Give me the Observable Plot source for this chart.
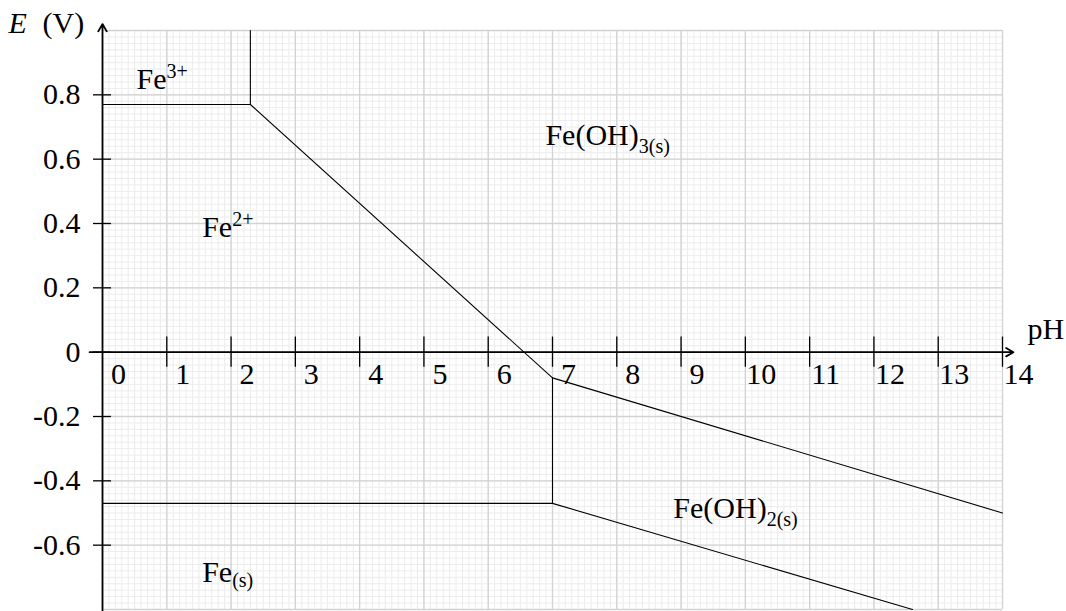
<!DOCTYPE html>
<html>
<head>
<meta charset="utf-8">
<script src="https://cdn.jsdelivr.net/npm/d3@7"></script>
<script src="https://cdn.jsdelivr.net/npm/@observablehq/plot@0.6"></script>
<style>
  html, body { margin: 0; padding: 0; background: #fff; }
  #chart svg { display: block; }
</style>
</head>
<body>
<div id="chart"></div>
<script>
// Potential–pH (Pourbaix) diagram of iron

// Axis ticks
const phTicks = [0, 1, 2, 3, 4, 5, 6, 7, 8, 9, 10, 11, 12, 13, 14];
const eTicks = [0.8, 0.6, 0.4, 0.2, 0, -0.2, -0.4, -0.6];
const eTickLabels = ["0.8", "0.6", "0.4", "0.2", "0", "-0.2", "-0.4", "-0.6"];

// Boundaries between predominance domains, as [pH, E] points
const boundFe3Fe2 = [[0, 0.77], [2.3, 0.77]];
const boundFe3FeOH3 = [[2.3, 0.77], [2.3, 1.0]];
const boundFe2FeOH3 = [[2.3, 0.77], [7, -0.08]];
const boundFe2FeOH2 = [[7, -0.08], [7, -0.47]];
const boundFeOH3FeOH2 = [[7, -0.08], [14, -0.5]];
const boundFe2Fe = [[0, -0.47], [7, -0.47]];
const boundFeOH2Fe = [[7, -0.47], [12.6, -0.8]];

// Species names written in each domain
const speciesBase = ["Fe", "Fe", "Fe(OH)", "Fe(OH)", "Fe"];
const speciesScript = ["3+", "2+", "3(s)", "2(s)", "(s)"];
const speciesKind = ["sup", "sup", "sub", "sub", "sub"];
const speciesPH = [0.53, 1.55, 6.89, 8.88, 1.55];
const speciesE = [0.817, 0.357, 0.643, -0.516, -0.715];

// Frame of the diagram
const phDomain = [0, 14];
const eDomain = [-0.8, 1.0];
const phAxisEnds = [-0.2, 14.17];
const eAxisEnds = [-0.81, 1.02];

const FONT = "'Liberation Serif', 'Times New Roman', serif";
const FS = 30;        // main text size
const FS_SCRIPT = 20; // sub/superscript size

// Measure the base text so that scripts can follow it
const ctx = document.createElement("canvas").getContext("2d");
ctx.font = `${FS}px ${FONT}`;
const species = speciesBase.map((base, i) => ({
  base,
  script: speciesScript[i],
  kind: speciesKind[i],
  pH: speciesPH[i],
  E: speciesE[i],
  w: ctx.measureText(base).width
}));

// Grid positions
const minorX = d3.range(0, 141).map(i => i / 10);
const minorY = d3.range(-40, 51).map(i => i / 50);
const majorX = d3.range(0, 15);
const majorY = d3.range(-4, 6).map(i => i / 5);

const boundaries = [boundFe3Fe2, boundFe3FeOH3, boundFe2FeOH3, boundFe2FeOH2,
                    boundFeOH3FeOH2, boundFe2Fe, boundFeOH2Fe];

const marks = [
  // graph-paper grid
  Plot.ruleX(minorX, {x: d => d, y1: eDomain[0], y2: eDomain[1], stroke: "#ececec", strokeWidth: 1}),
  Plot.ruleY(minorY, {y: d => d, x1: phDomain[0], x2: phDomain[1], stroke: "#ececec", strokeWidth: 1}),
  Plot.ruleX(majorX, {x: d => d, y1: eDomain[0], y2: eDomain[1], stroke: "#d2d2d2", strokeWidth: 1.3}),
  Plot.ruleY(majorY, {y: d => d, x1: phDomain[0], x2: phDomain[1], stroke: "#d2d2d2", strokeWidth: 1.3}),

  // domain boundaries
  ...boundaries.map(seg => Plot.line(seg, {x: d => d[0], y: d => d[1], stroke: "black", strokeWidth: 1.1})),

  // axes with arrow heads
  Plot.arrow([{x1: phAxisEnds[0], x2: phAxisEnds[1], y1: 0, y2: 0}],
    {x1: "x1", x2: "x2", y1: "y1", y2: "y2", stroke: "black", strokeWidth: 1.8, headLength: 7, headAngle: 60}),
  Plot.arrow([{x1: 0, x2: 0, y1: eAxisEnds[0], y2: eAxisEnds[1]}],
    {x1: "x1", x2: "x2", y1: "y1", y2: "y2", stroke: "black", strokeWidth: 1.8, headLength: 7, headAngle: 60}),

  // tick marks
  Plot.ruleX(phTicks.filter(d => d > 0), {x: d => d, y1: -0.047, y2: 0.047, stroke: "black", strokeWidth: 1.3}),
  Plot.ruleY(eTicks, {y: d => d, x1: -0.14, x2: 0.14, stroke: "black", strokeWidth: 1.3}),

  // tick labels
  Plot.text(phTicks, {x: d => d, y: 0, text: d => String(d), dx: 16, dy: 32,
    textAnchor: "middle", lineAnchor: "bottom", fontSize: FS}),
  Plot.text(eTicks, {x: 0, y: d => d, text: (d, i) => eTickLabels[i], dx: -22,
    textAnchor: "end", lineAnchor: "middle", fontSize: FS}),

  // axis titles
  Plot.text(["E"], {x: 0, y: eDomain[1], text: d => d, dx: -94, dy: 2, fontStyle: "italic",
    textAnchor: "start", lineAnchor: "bottom", fontSize: FS}),
  Plot.text(["(V)"], {x: 0, y: eDomain[1], text: d => d, dx: -60, dy: 2,
    textAnchor: "start", lineAnchor: "bottom", fontSize: FS}),
  Plot.text(["pH"], {x: phDomain[1], y: 0, text: d => d, dx: 25, dy: -13,
    textAnchor: "start", lineAnchor: "bottom", fontSize: FS}),

  // species names
  Plot.text(species, {x: "pH", y: "E", text: "base", textAnchor: "start", lineAnchor: "bottom", fontSize: FS}),
  ...species.map(s => Plot.text([s], {
    x: "pH", y: "E", text: "script", dx: s.w,
    // superscripts rise; subscripts drop further after a closing parenthesis
    dy: s.kind === "sup" ? -11 : (s.base.endsWith(")") ? 8 : 5),
    textAnchor: "start", lineAnchor: "bottom", fontSize: FS_SCRIPT
  }))
];

const chart = Plot.plot({
  width: 1066,
  height: 611,
  marginTop: 30,
  marginBottom: 2,
  marginLeft: 102,
  marginRight: 64,
  x: {domain: phDomain, axis: null},
  y: {domain: eDomain, axis: null},
  style: {fontFamily: FONT, background: "white", color: "black"},
  marks
});

document.getElementById("chart").appendChild(chart);
</script>
</body>
</html>
